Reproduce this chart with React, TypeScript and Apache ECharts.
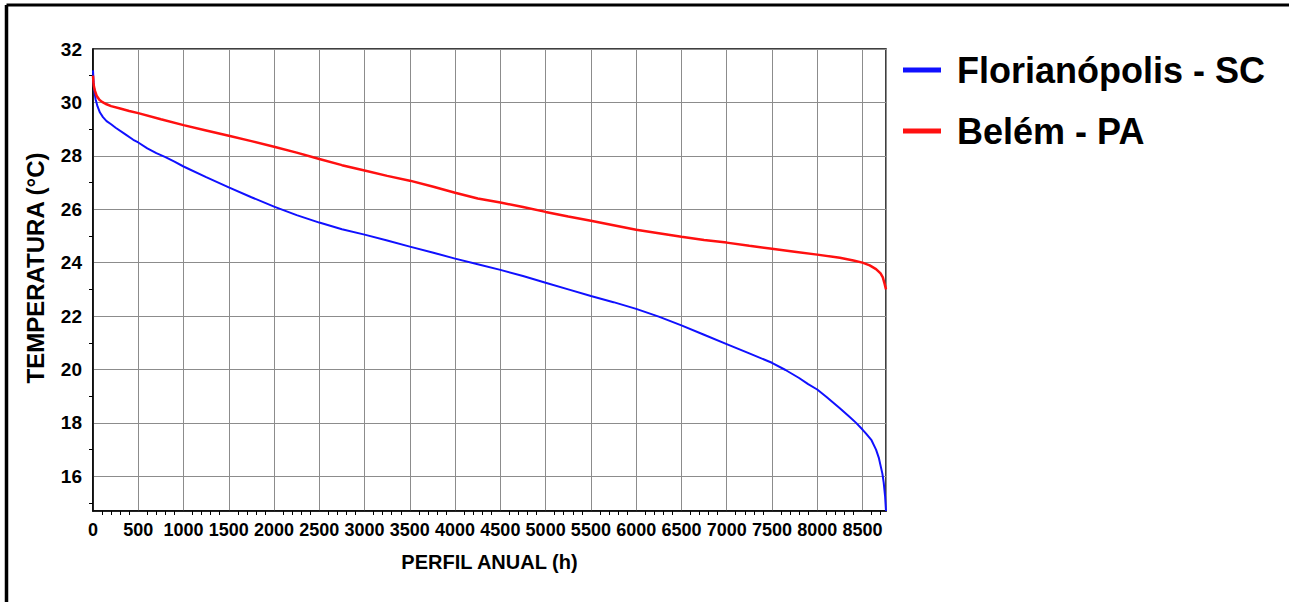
import React, { useEffect, useRef } from "react";
import * as echarts from "echarts";

const floripaHours = [0, 5, 10, 20, 30, 50, 77, 110, 150, 200, 250, 350, 445, 500, 600, 700, 800, 900, 1000, 1250, 1500, 1750, 2000, 2250, 2500, 2750, 3000, 3250, 3500, 3750, 4000, 4250, 4500, 4750, 5000, 5250, 5500, 5750, 6000, 6250, 6500, 6750, 7000, 7250, 7500, 7650, 7800, 7900, 8000, 8100, 8250, 8350, 8430, 8500, 8540, 8600, 8650, 8680, 8700, 8720, 8735, 8750, 8760];
const floripaTemp = [31.2, 30.85, 30.6, 30.3, 30.1, 29.85, 29.62, 29.45, 29.3, 29.18, 29.05, 28.82, 28.6, 28.5, 28.28, 28.1, 27.95, 27.78, 27.6, 27.2, 26.82, 26.45, 26.1, 25.78, 25.5, 25.25, 25.05, 24.83, 24.6, 24.38, 24.15, 23.94, 23.73, 23.5, 23.25, 23.0, 22.75, 22.52, 22.27, 21.98, 21.65, 21.3, 20.95, 20.6, 20.25, 19.98, 19.68, 19.45, 19.25, 18.98, 18.55, 18.25, 18.0, 17.75, 17.6, 17.35, 17.0, 16.7, 16.4, 16.1, 15.75, 15.25, 14.7];

const belemHours = [0, 5, 10, 20, 40, 70, 100, 150, 200, 300, 400, 500, 750, 1000, 1250, 1500, 1750, 2000, 2250, 2500, 2750, 3000, 3250, 3500, 3750, 4000, 4250, 4500, 4750, 5000, 5250, 5500, 5750, 6000, 6250, 6500, 6750, 7000, 7250, 7500, 7750, 8000, 8250, 8400, 8500, 8580, 8650, 8700, 8725, 8745, 8760];
const belemTemp = [31.0, 30.75, 30.6, 30.45, 30.25, 30.1, 30.02, 29.93, 29.86, 29.77, 29.68, 29.6, 29.37, 29.15, 28.95, 28.75, 28.55, 28.34, 28.12, 27.88, 27.65, 27.45, 27.25, 27.07, 26.85, 26.62, 26.4, 26.25, 26.08, 25.9, 25.73, 25.57, 25.4, 25.23, 25.1, 24.97, 24.85, 24.75, 24.63, 24.52, 24.41, 24.3, 24.18, 24.08, 24.0, 23.9, 23.76, 23.6, 23.45, 23.2, 23.0];

const seriesNames = ["Florianópolis - SC", "Belém - PA"];
const xTitle = "PERFIL ANUAL (h)";
const yTitle = "TEMPERATURA (°C)";

const pairs = (xs: number[], ys: number[]) => xs.map((x, i) => [x, ys[i]]);

export default function App() {
  const ref = useRef<HTMLDivElement>(null);
  useEffect(() => {
    if (!ref.current) return;
    const chart = echarts.init(ref.current, null, { renderer: "svg" });
    const font = "'Liberation Sans', Arial, sans-serif";
    chart.setOption({
      animation: false,
      backgroundColor: "#fff",
      textStyle: { fontFamily: font },
      grid: {
        left: 93,
        right: 403,
        top: 49,
        bottom: 91,
        show: true,
        borderColor: "#000",
        borderWidth: 1.5,
        backgroundColor: "transparent",
      },
      legend: {
        orient: "vertical",
        left: 898,
        top: 47,
        itemGap: 25,
        itemWidth: 38,
        itemHeight: 5,
        icon: "rect",
        textStyle: {
          fontFamily: font,
          fontWeight: "bold",
          fontSize: 36,
          color: "#000",
          padding: [0, 0, 0, 11],
        },
        data: seriesNames,
      },
      xAxis: {
        type: "value",
        min: 0,
        max: 8760,
        interval: 500,
        name: xTitle,
        nameLocation: "middle",
        nameGap: 41,
        nameTextStyle: { fontFamily: font, fontWeight: "bold", fontSize: 20, color: "#000" },
        axisLine: { lineStyle: { color: "#000", width: 1.5 } },
        axisTick: { show: false },
        minorTick: { show: true, splitNumber: 5, length: 4, lineStyle: { color: "#000" } },
        axisLabel: {
          showMaxLabel: false,
          color: "#000",
          fontWeight: "bold",
          fontSize: 18,
          fontFamily: font,
          margin: 10,
          formatter: (v: number) => String(v),
        },
        splitLine: { show: true, lineStyle: { color: "#8c8c8c", width: 1 } },
      },
      yAxis: {
        type: "value",
        min: 14.7,
        max: 32,
        splitNumber: 9,
        axisLine: { show: true, lineStyle: { color: "#000", width: 1.5 } },
        axisTick: { show: false },
        minorTick: { show: true, splitNumber: 2, length: 4, lineStyle: { color: "#000" } },
        axisLabel: {
          showMinLabel: false,
          color: "#000",
          fontWeight: "bold",
          fontSize: 19,
          fontFamily: font,
          margin: 11,
          formatter: (v: number) => String(v),
        },
        splitLine: { show: true, lineStyle: { color: "#8c8c8c", width: 1 } },
      },
      graphic: [
        { type: "line", shape: { x1: 6.5, y1: 5, x2: 1289, y2: 5 }, style: { stroke: "#000", lineWidth: 3 } },
        { type: "line", shape: { x1: 6.5, y1: 5, x2: 6.5, y2: 602 }, style: { stroke: "#000", lineWidth: 3.5 } },
        {
          type: "text",
          x: 35,
          y: 268,
          rotation: Math.PI / 2,
          style: {
            text: yTitle,
            fontFamily: font,
            fontWeight: "bold",
            fontSize: 24,
            fill: "#000",
            align: "center",
            verticalAlign: "middle",
          },
        },
      ],
      series: [
        {
          name: seriesNames[0],
          type: "line",
          data: pairs(floripaHours, floripaTemp),
          showSymbol: false,
          lineStyle: { color: "#1010ff", width: 2 },
          itemStyle: { color: "#1010ff" },
        },
        {
          name: seriesNames[1],
          type: "line",
          data: pairs(belemHours, belemTemp),
          showSymbol: false,
          lineStyle: { color: "#ff1010", width: 2.5 },
          itemStyle: { color: "#ff1010" },
        },
      ],
    });
    return () => chart.dispose();
  }, []);
  return <div ref={ref} style={{ position: "fixed", left: 0, top: 0, width: 1289, height: 602 }} />;
}
